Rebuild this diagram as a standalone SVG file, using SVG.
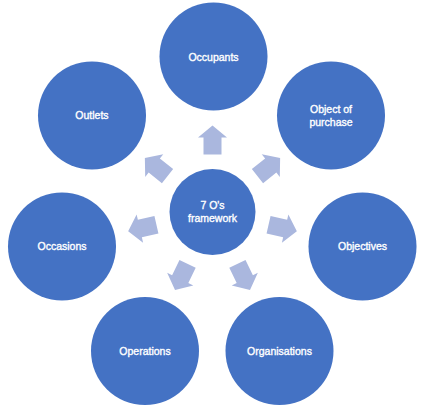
<svg xmlns="http://www.w3.org/2000/svg" width="424" height="409" viewBox="0 0 424 409">
  <style>
    .node { fill: #4472C4; }
    .arrow { fill: #AAB7DE; }
    .lbl { fill: #FFFFFF; stroke: #FFFFFF; stroke-width: 0.35; font-family: "Liberation Sans", Arial, sans-serif; font-size: 10.5px; text-anchor: middle; dominant-baseline: central; }
  </style>
  <defs>
    <path id="arr" d="M0,-14.5 L14.5,-2.5 L9,-2.5 L9,14.5 L-9,14.5 L-9,-2.5 L-14.5,-2.5 Z"/>
  </defs>
  <rect width="424" height="409" fill="#FFFFFF"/>
  <g id="connectors">
    <use href="#arr" class="arrow" transform="translate(212.5,140) rotate(0)"/>
    <use href="#arr" class="arrow" transform="translate(268.8,167.1) rotate(51.43)"/>
    <use href="#arr" class="arrow" transform="translate(282.7,228) rotate(102.86)"/>
    <use href="#arr" class="arrow" transform="translate(243.7,276.9) rotate(154.29)"/>
    <use href="#arr" class="arrow" transform="translate(181.3,276.9) rotate(205.71)"/>
    <use href="#arr" class="arrow" transform="translate(142.3,228) rotate(257.14)"/>
    <use href="#arr" class="arrow" transform="translate(156.2,167.1) rotate(308.57)"/>
  </g>
  <g id="center">
    <circle class="node" cx="212.5" cy="212" r="43"/>
    <text class="lbl" x="212.5" y="205">7 O's</text>
    <text class="lbl" x="212.5" y="218">framework</text>
  </g>
  <g id="occupants">
    <circle class="node" cx="213.5" cy="56.5" r="54"/>
    <text class="lbl" x="213.5" y="57">Occupants</text>
  </g>
  <g id="object-of-purchase">
    <circle class="node" cx="331" cy="115.5" r="54"/>
    <text class="lbl" x="331" y="109">Object of</text>
    <text class="lbl" x="331" y="122">purchase</text>
  </g>
  <g id="objectives">
    <circle class="node" cx="362.5" cy="246.5" r="54"/>
    <text class="lbl" x="362.5" y="246">Objectives</text>
  </g>
  <g id="organisations">
    <circle class="node" cx="279.5" cy="351" r="54"/>
    <text class="lbl" x="279.5" y="351">Organisations</text>
  </g>
  <g id="operations">
    <circle class="node" cx="145" cy="351" r="54"/>
    <text class="lbl" x="145" y="351">Operations</text>
  </g>
  <g id="occasions">
    <circle class="node" cx="62" cy="246.5" r="54"/>
    <text class="lbl" x="62" y="246">Occasions</text>
  </g>
  <g id="outlets">
    <circle class="node" cx="92" cy="115.5" r="54"/>
    <text class="lbl" x="92" y="115">Outlets</text>
  </g>
</svg>
